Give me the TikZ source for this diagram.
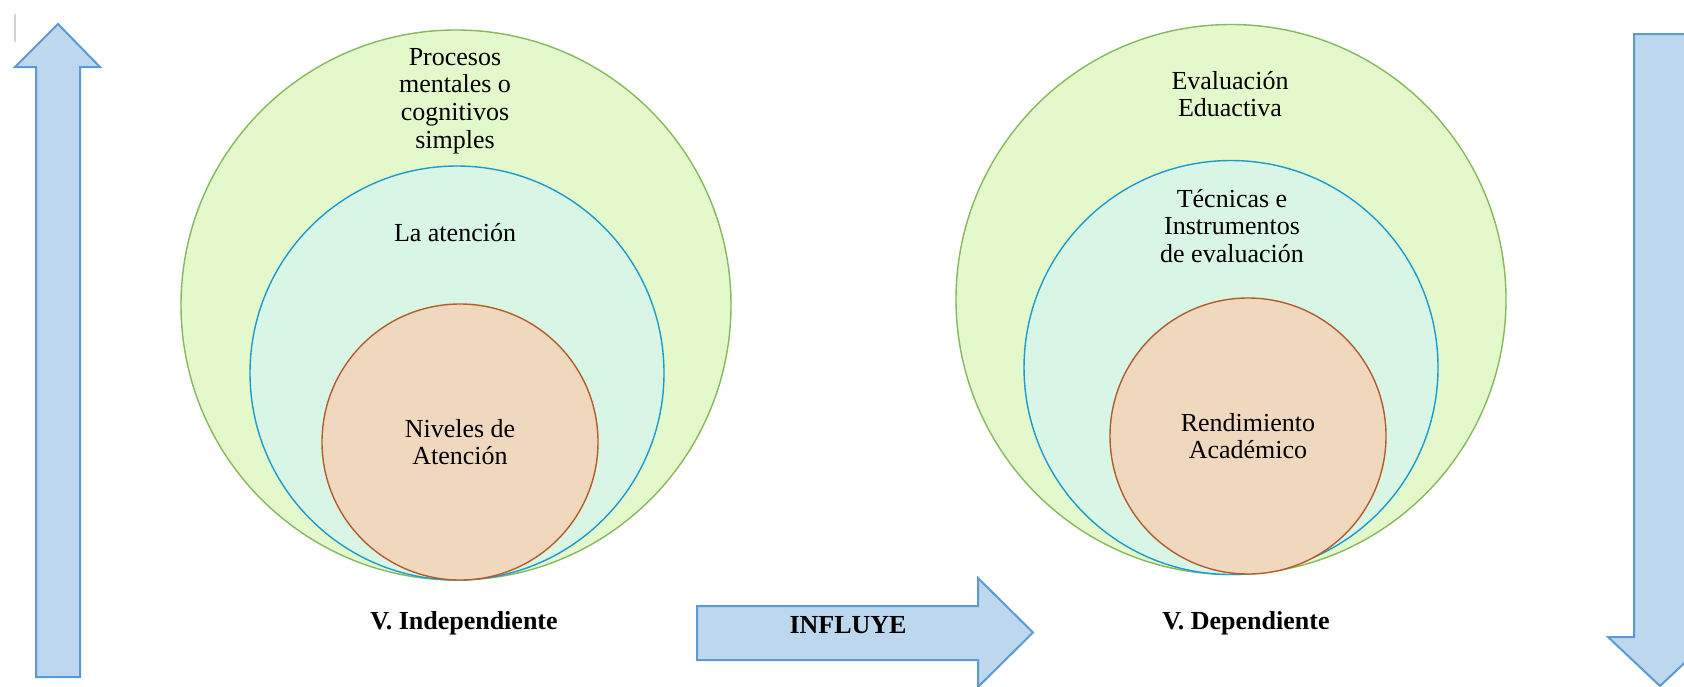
\documentclass[tikz,border=0pt]{standalone}
\usepackage{fontspec}
\setmainfont{Liberation Serif}
\usetikzlibrary{shapes.geometric}

\definecolor{arrowfill}{HTML}{BDD7EE}
\definecolor{arrowline}{HTML}{5B9BD5}
\definecolor{outerfill}{HTML}{E3F9CB}
\definecolor{outerline}{HTML}{86B85C}
\definecolor{midfill}{HTML}{D9F5E5}
\definecolor{midline}{HTML}{1C9BD0}
\definecolor{innerfill}{HTML}{EFD8BD}
\definecolor{innerline}{HTML}{B25E2A}

\tikzset{
	bigarrow/.style={fill=arrowfill, draw=arrowline, line width=1pt, line join=miter},
	ring/.style={circle, inner sep=0pt, line width=0.7pt,
		font=\fontsize{13}{13.8}\selectfont, align=center},
	outerring/.style={ring, fill=outerfill, draw=outerline, minimum size=275pt},
	midring/.style={ring, fill=midfill, draw=midline, minimum size=207pt},
	innerring/.style={ring, fill=innerfill, draw=innerline, minimum size=138pt},
	ringtext/.style={font=\fontsize{13}{13.8}\selectfont, align=center, inner sep=0pt},
	vartext/.style={font=\fontsize{13}{13.8}\selectfont\bfseries, inner sep=0pt}
}

\begin{document}
\begin{tikzpicture}[x=0.5pt, y=-0.5pt]

	\clip (0,0) rectangle (1684,686);

	% cursor mark
	\draw [gray!35, line width=1pt] (15,14) -- (15,42);

	% side arrows
	\draw [bigarrow] (36,677) -- (36,67) -- (15,67) -- (58,24) -- (100,67)
		-- (80,67) -- (80,677) -- cycle;
	\draw [bigarrow] (1634,34) -- (1686,34) -- (1686,637) -- (1712,637)
		-- (1660,686) -- (1608,637) -- (1634,637) -- cycle;

	% independent variable
	\node [outerring] (indepouter) at (456,305) {};
	\node [midring] (indepmid) at (457,373) {};
	\node [innerring] (indepinner) at (460,442) {Niveles de\\Atención};
	\node [ringtext] (indepoutertext) at (455,101) {Procesos\\mentales o\\cognitivos\\simples};
	\node [ringtext] (indepmidtext) at (455,233) {La atención};
	\node [vartext] (indeplabel) at (464,623) {V. Independiente};

	% dependent variable
	\node [outerring] (depouter) at (1231,299.5) {};
	\node [midring] (depmid) at (1231,367.5) {};
	\node [innerring] (depinner) at (1248,436) {Rendimiento\\Académico};
	\node [ringtext] (depoutertext) at (1230,94) {Evaluación\\Eduactiva};
	\node [ringtext] (depmidtext) at (1232,226) {Técnicas e\\Instrumentos\\de evaluación};
	\node [vartext] (deplabel) at (1246,623) {V. Dependiente};

	% influence arrow
	\draw [bigarrow] (697,606) -- (978,606) -- (978,578) -- (1033,632.5)
		-- (978,687) -- (978,660) -- (697,660) -- cycle;
	\node [vartext] (influye) at (848,625) {INFLUYE};

\end{tikzpicture}
\end{document}
